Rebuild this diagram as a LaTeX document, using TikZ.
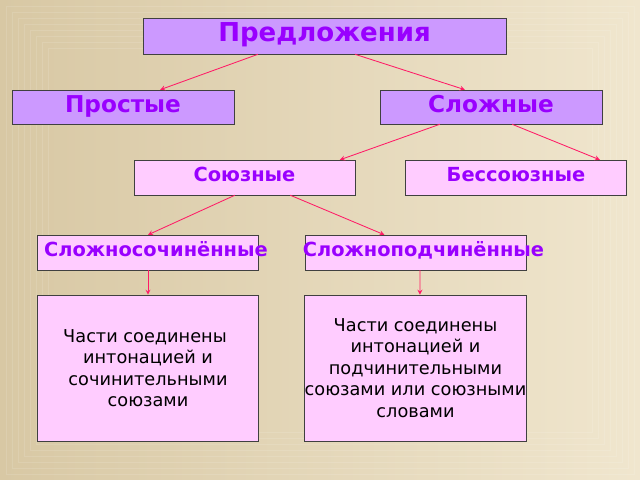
\documentclass[tikz,border=0pt]{standalone}
\usepackage{fontspec}
\setmainfont{DejaVu Sans}
\usetikzlibrary{calc}
\definecolor{lilac}{HTML}{CC99FF}
\definecolor{pinkbox}{HTML}{FFCCFF}
\definecolor{violettext}{HTML}{9900FF}
\definecolor{arrowred}{HTML}{FF1A66}
\definecolor{sandA}{HTML}{D8C8A4}
\definecolor{sandB}{HTML}{F0E6CE}
\begin{document}
\begin{tikzpicture}[x=0.025cm,y=-0.025cm]
	\tikzstyle{top}=[draw=black!75,fill=lilac,minimum width=5.55cm,text=violettext,inner sep=0pt,execute at begin node=\strut,font=\bfseries]
	\tikzstyle{mid}=[draw=black!75,fill=pinkbox,minimum width=5.53cm,minimum height=0.87cm,text=violettext,inner sep=0pt,execute at begin node=\strut,font=\bfseries\fontsize{13.8}{15}\selectfont]
	\tikzstyle{note}=[draw=black!75,fill=pinkbox,minimum width=5.53cm,minimum height=3.65cm,align=center,inner sep=0pt,font=\fontsize{12.6}{15.3}\selectfont]
	\tikzstyle{link}=[draw=arrowred,line width=0.6pt,-stealth]
	\shade[left color=sandA,right color=sandB] (0,0) rectangle (640,480);
	\foreach \i in {1,...,8}
		\draw[white,opacity=0.12] (6*\i,6*\i) rectangle (640-6*\i,480-6*\i);
	\node[top,minimum width=9.07cm,minimum height=0.9cm,font=\bfseries\fontsize{18.5}{20}\selectfont] (root) at (324.5,36) {Предложения};
	\node[top,minimum height=0.85cm,font=\bfseries\fontsize{16.5}{18}\selectfont] (simple) at (123,107) {Простые};
	\node[top,minimum height=0.85cm,font=\bfseries\fontsize{16.5}{18}\selectfont] (complex) at (491,107) {Сложные};
	\node[mid] (conj) at (244.5,177.5) {Союзные};
	\node[mid] (noconj) at (516,177.5) {Бессоюзные};
	\node[mid] (coord) at (148,252.5) {\makebox[0pt]{\hspace{0.4cm}Сложносочинённые}};
	\node[mid] (subord) at (415.5,252.5) {\makebox[0pt]{\hspace{0.4cm}Сложноподчинённые}};
	\node[note] (coordtext) at (148,368) {\hspace*{-0.15cm}Части соединены\\интонацией и\\сочинительными\\союзами};
	\node[note] (subordtext) at (415.5,368) {Части соединены\\интонацией и\\подчинительными\\союзами или союзными\\словами};
	\draw[link] ($(root.south west)!0.317!(root.south east)$) -- ($(simple.north west)!0.667!(simple.north east)$);
	\draw[link] ($(root.south west)!0.584!(root.south east)$) -- ($(complex.north west)!0.383!(complex.north east)$);
	\draw[link] ($(complex.south west)!0.27!(complex.south east)$) -- ($(conj.north west)!0.93!(conj.north east)$);
	\draw[link] ($(complex.south west)!0.595!(complex.south east)$) -- ($(noconj.north west)!0.878!(noconj.north east)$);
	\draw[link] ($(conj.south west)!0.457!(conj.south east)$) -- (coord.north);
	\draw[link] ($(conj.south west)!0.706!(conj.south east)$) -- ($(subord.north west)!0.36!(subord.north east)$);
	\draw[link] (coord.south) -- (coordtext.north);
	\draw[link] ($(subord.south west)!0.52!(subord.south east)$) -- ($(subordtext.north west)!0.52!(subordtext.north east)$);
\end{tikzpicture}
\end{document}
